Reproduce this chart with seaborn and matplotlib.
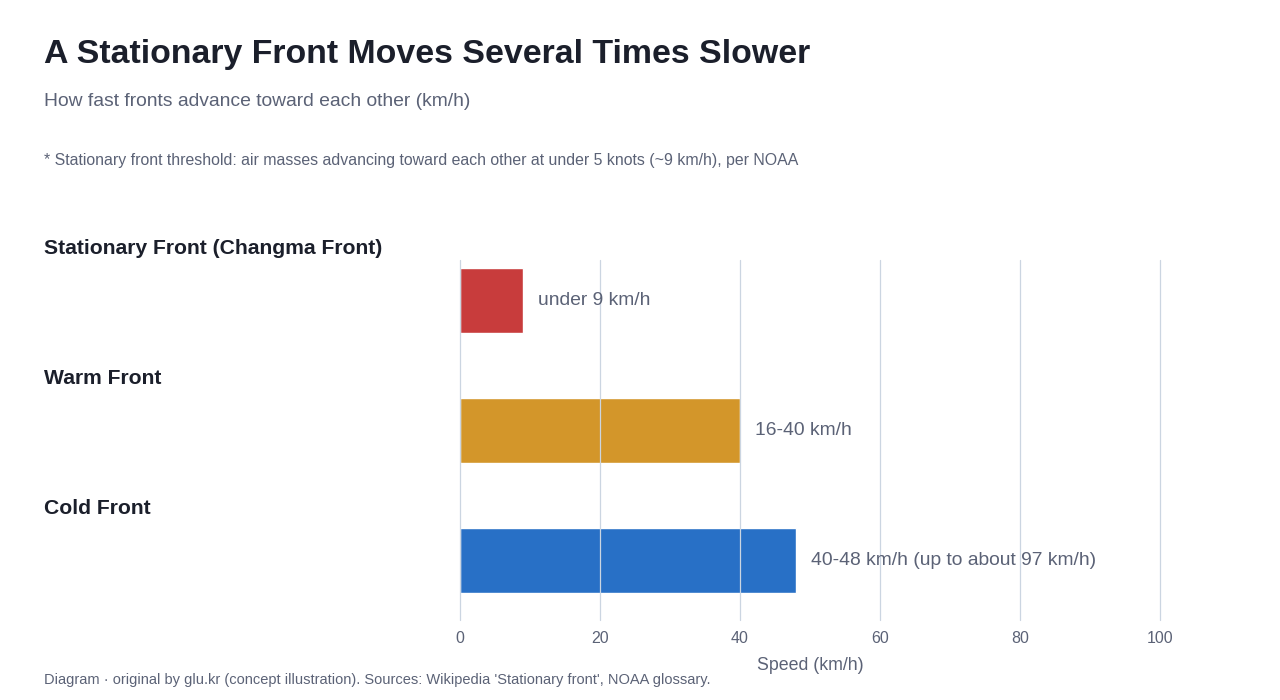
import matplotlib
matplotlib.use("Agg")
import matplotlib.pyplot as plt
import matplotlib.transforms as mtransforms
import pandas as pd
import seaborn as sns

# === DATA ===
fronts = ["Stationary Front (Changma Front)", "Warm Front", "Cold Front"]
speeds = [9, 40, 48]
bar_labels = ["under 9 km/h", "16-40 km/h", "40-48 km/h (up to about 97 km/h)"]
bar_colors = ["#C83C3C", "#D3962A", "#2870C6"]
xticks = [0, 20, 40, 60, 80, 100]

title = "A Stationary Front Moves Several Times Slower"
subtitle = "How fast fronts advance toward each other (km/h)"
note = "* Stationary front threshold: air masses advancing toward each other at under 5 knots (~9 km/h), per NOAA"
footer = "Diagram · original by glu.kr (concept illustration). Sources: Wikipedia 'Stationary front', NOAA glossary."

# === STYLE ===
sns.set_theme(style="white")
plt.rcParams["font.family"] = ["Liberation Sans", "DejaVu Sans"]

dark = "#1B1F2B"
grey = "#5B6276"
grid_color = "#CBD5E1"

df = pd.DataFrame({"Front": fronts, "Speed": speeds})

fig = plt.figure(figsize=(12.8, 7), dpi=100)
ax = fig.add_axes([460 / 1280, 1 - 620 / 700, 700 / 1280, 360 / 700])

sns.barplot(
    data=df, x="Speed", y="Front", hue="Front", palette=bar_colors,
    orient="h", width=0.5, legend=False, ax=ax, saturation=1,
)

ax.set_xlim(0, 100)
ax.set_ylim(2.46, -0.31)
ax.set_xticks(xticks)
ax.set_yticks([])
ax.set_ylabel("")
ax.set_xlabel("Speed (km/h)", fontsize=12.8, color=grey, labelpad=8)
ax.tick_params(axis="x", length=0, labelsize=11.5, labelcolor=grey, pad=8)
for s in ax.spines.values():
    s.set_visible(False)

# gridlines on top of the bars
for t in xticks:
    ax.axvline(t, color=grid_color, lw=0.9, zorder=5, clip_on=False)

# value labels
for i, (v, lab) in enumerate(zip(speeds, bar_labels)):
    ax.text(v + 2.2, i, lab, va="center", ha="left", fontsize=13.9, color=grey, zorder=6)

# category labels at left, above each bar
trans = mtransforms.blended_transform_factory(fig.transFigure, ax.transData)
for i, name in enumerate(fronts):
    ax.text(44 / 1280, i - 0.395, name, transform=trans, ha="left", va="center",
            fontsize=15.2, fontweight="bold", color=dark)

fig.text(44 / 1280, 1 - 55 / 700, title, fontsize=24.4, fontweight="bold", color=dark, va="center")
fig.text(44 / 1280, 1 - 102 / 700, subtitle, fontsize=13.9, color=grey, va="center")
fig.text(44 / 1280, 1 - 161 / 700, note, fontsize=11.4, color=grey, va="center")
fig.text(44 / 1280, 1 - 680 / 700, footer, fontsize=10.5, color=grey, va="center")

fig.savefig("out.png", dpi=100, facecolor="white")
